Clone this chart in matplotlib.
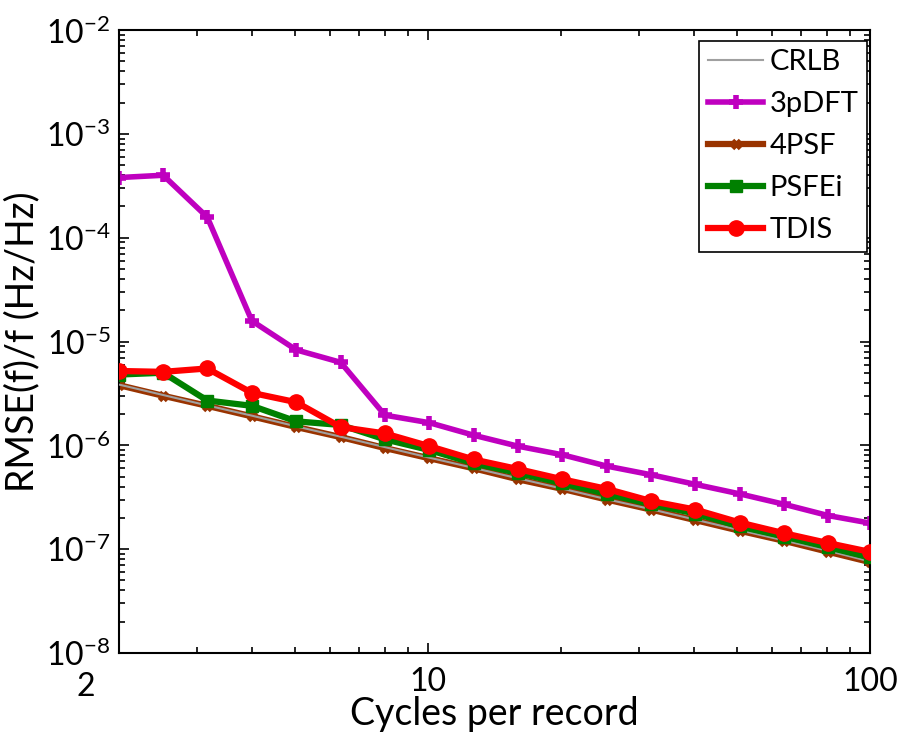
import numpy as np
import matplotlib
matplotlib.use("Agg")
import matplotlib.pyplot as plt
import matplotlib.transforms as mtransforms
from matplotlib.ticker import LogLocator, NullFormatter, FixedLocator

plt.rcParams['font.family'] = ['Lato', 'DejaVu Sans']
plt.rcParams['mathtext.fontset'] = 'custom'
plt.rcParams['mathtext.rm'] = 'Lato'

# cycles per record
cycles = [2, 2.52, 3.17, 4, 5.04, 6.35, 8, 10.08, 12.7, 16, 20.16, 25.4, 32, 40.3, 50.8, 64, 80.6, 100]

crlb = [3.85e-6, 3.05e-6, 2.42e-6, 1.93e-6, 1.52e-6, 1.21e-6, 9.6e-7, 7.6e-7, 6.05e-7, 4.8e-7,
        3.82e-7, 3.02e-7, 2.42e-7, 1.92e-7, 1.52e-7, 1.21e-7, 9.6e-8, 7.6e-8]
p3dft = [3.8e-4, 4.0e-4, 1.58e-4, 1.58e-5, 8.3e-6, 6.3e-6, 1.95e-6, 1.65e-6, 1.25e-6, 9.8e-7,
         8.1e-7, 6.3e-7, 5.2e-7, 4.2e-7, 3.4e-7, 2.7e-7, 2.1e-7, 1.78e-7]
psf4 = [3.8e-6, 3.0e-6, 2.4e-6, 1.9e-6, 1.5e-6, 1.2e-6, 9.4e-7, 7.5e-7, 6.0e-7, 4.7e-7,
        3.8e-7, 3.0e-7, 2.4e-7, 1.9e-7, 1.5e-7, 1.2e-7, 9.4e-8, 7.5e-8]
psfei = [4.8e-6, 5.0e-6, 2.7e-6, 2.4e-6, 1.7e-6, 1.57e-6, 1.14e-6, 9.0e-7, 6.7e-7, 5.4e-7,
         4.3e-7, 3.4e-7, 2.7e-7, 2.2e-7, 1.65e-7, 1.32e-7, 1.04e-7, 8.3e-8]
tdis = [5.2e-6, 5.1e-6, 5.5e-6, 3.2e-6, 2.6e-6, 1.5e-6, 1.3e-6, 9.8e-7, 7.3e-7, 5.9e-7,
        4.7e-7, 3.8e-7, 2.9e-7, 2.4e-7, 1.8e-7, 1.42e-7, 1.14e-7, 9.4e-8]

fig = plt.figure(figsize=(9.07, 7.36), dpi=100)
ax = fig.add_axes([0.131, 0.113, 0.828, 0.846])

ax.plot(cycles, crlb, color="#a0a0a0", lw=1.5, label="CRLB", zorder=3)
ax.plot(cycles, p3dft, color="#bf00bf", lw=4, marker="+", ms=10, mew=4, label="3pDFT", zorder=2)
ax.plot(cycles, psf4, color="#993300", lw=4.5, marker="x", ms=6, mew=3.5, label="4PSF", zorder=2)
ax.plot(cycles, psfei, color="#008000", lw=4.5, marker="s", ms=9, label="PSFEi", zorder=4)
ax.plot(cycles, tdis, color="#ff0000", lw=4.5, marker="o", ms=11, label="TDIS", zorder=5)

ax.set_xscale("log")
ax.set_yscale("log")
ax.set_xlim(2, 100)
ax.set_ylim(1e-8, 1e-2)

ax.xaxis.set_major_locator(FixedLocator([2, 10, 100]))
ax.set_xticklabels(["2", "10", "100"])
ax.xaxis.set_minor_locator(FixedLocator([3, 4, 5, 6, 7, 8, 9, 20, 30, 40, 50, 60, 70, 80, 90]))
ax.xaxis.set_minor_formatter(NullFormatter())
ax.yaxis.set_major_locator(LogLocator(base=10, numticks=10))
ax.yaxis.set_minor_locator(LogLocator(base=10, subs=np.arange(2, 10), numticks=20))
ax.yaxis.set_minor_formatter(NullFormatter())

ax.tick_params(which="both", direction="in", top=True, right=True, width=1.2, labelsize=23)
ax.tick_params(which="major", length=7)
ax.tick_params(which="minor", length=4)
ax.tick_params(axis="x", pad=10)
ax.tick_params(axis="y", pad=6)
for s in ax.spines.values():
    s.set_linewidth(1.5)

# the "2" label sits left of the axis corner, under the 10^-8 label
lbl2 = ax.get_xticklabels()[0]
lbl2.set_transform(lbl2.get_transform() +
                   mtransforms.ScaledTranslation(-33 / 100, -5 / 100, fig.dpi_scale_trans))

ax.set_xlabel("Cycles per record", fontsize=27)
ax.xaxis.set_label_coords(0.5, -0.07)
ax.set_ylabel("RMSE(f)/f (Hz/Hz)", fontsize=27, labelpad=4)

leg = ax.legend(loc="upper right", fontsize=21, fancybox=False, edgecolor="black",
                framealpha=1, handlelength=1.9, borderpad=0.3, labelspacing=0.55,
                handletextpad=0.2, borderaxespad=0.1, bbox_to_anchor=(1.0, 0.988))
leg.get_frame().set_linewidth(1.2)

plt.savefig("out.png", dpi=100)
plt.close()
